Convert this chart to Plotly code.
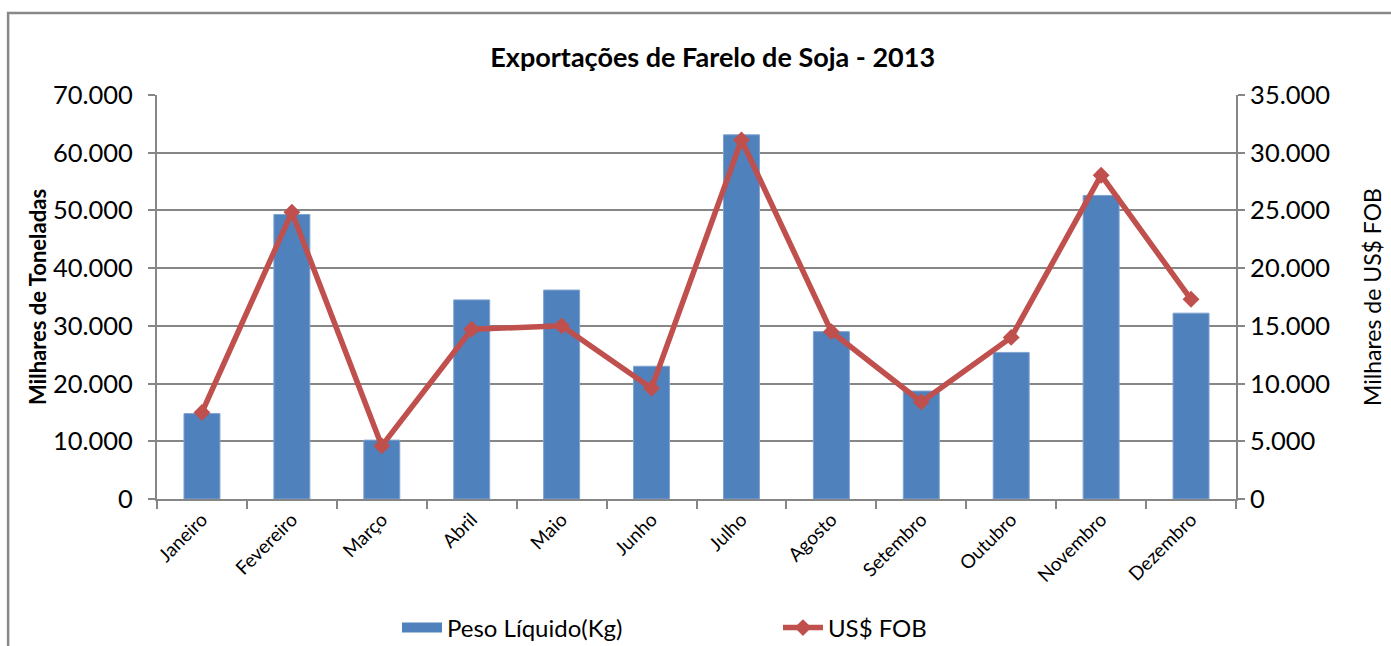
import plotly.graph_objects as go

meses = ["Janeiro", "Fevereiro", "Março", "Abril", "Maio", "Junho", "Julho",
         "Agosto", "Setembro", "Outubro", "Novembro", "Dezembro"]
peso_liquido = [14800, 49300, 10200, 34500, 36200, 23000, 63100,
                29000, 18700, 25400, 52600, 32200]
us_fob = [7500, 24850, 4600, 14700, 15000, 9600, 31100,
          14500, 8400, 14000, 28050, 17300]
left_ticks = [0, 10000, 20000, 30000, 40000, 50000, 60000, 70000]
right_ticks = [0, 5000, 10000, 15000, 20000, 25000, 30000, 35000]

FONT = "Lato"
GRID = "#868686"
BLUE = "#4F81BD"
RED = "#C0504D"

fig = go.Figure()
# legend-only entry that draws a wide rectangular swatch like the original
fig.add_trace(go.Scatter(
    x=[None], y=[None], mode="lines", name="Peso Líquido(Kg)",
    line=dict(color=BLUE, width=15), showlegend=True,
))
fig.add_trace(go.Bar(
    x=meses, y=peso_liquido, name="Peso Líquido(Kg)", showlegend=False,
    marker=dict(color=BLUE, line=dict(color="#7FA3D0", width=1)),
    yaxis="y",
))
fig.add_trace(go.Scatter(
    x=meses, y=us_fob, name="US$ FOB", mode="lines+markers",
    line=dict(color=RED, width=5.5),
    marker=dict(symbol="diamond", size=13, color=RED),
    yaxis="y2",
))

fig.update_layout(
    width=1391, height=646,
    margin=dict(l=157, r=155, t=95, b=147, autoexpand=False),
    paper_bgcolor="white", plot_bgcolor="white",
    separators=",.",
    font=dict(family=FONT, color="black"),
    bargap=0.6,
    showlegend=True,
    title=dict(text="<b>Exportações de Farelo de Soja - 2013</b>",
               x=0.515, xref="paper", xanchor="center",
               y=1 - 58 / 646, yanchor="middle",
               font=dict(size=27, family=FONT, color="black")),
    xaxis=dict(
        type="category", range=[-0.5, 11.5], automargin=False,
        tickangle=-45, tickson="boundaries",
        ticks="outside", ticklen=8, tickcolor=GRID, tickwidth=1.5,
        showline=True, linecolor=GRID, linewidth=2,
        showgrid=False,
        tickfont=dict(size=19, family=FONT, color="black"),
    ),
    yaxis=dict(
        range=[0, 70000], tickvals=left_ticks, tickformat=",d",
        automargin=False,
        showgrid=True, gridcolor=GRID, gridwidth=2,
        showline=True, linecolor=GRID, linewidth=2,
        ticks="outside", ticklen=7, tickcolor=GRID, tickwidth=1.5,
        ticklabelstandoff=10,
        tickfont=dict(size=25.5, family=FONT, color="black"),
        title=dict(text="<b>Milhares de Toneladas</b>",
                   font=dict(size=22, family=FONT, color="black"), standoff=0),
        zeroline=False,
    ),
    yaxis2=dict(
        range=[0, 35000], tickvals=right_ticks, tickformat=",d",
        automargin=False,
        overlaying="y", side="right",
        showgrid=False,
        showline=True, linecolor=GRID, linewidth=2,
        ticks="outside", ticklen=7, tickcolor=GRID, tickwidth=1.5,
        tickfont=dict(size=25.5, family=FONT, color="black"),
        title=dict(text="Milhares de US$ FOB",
                   font=dict(size=23, family=FONT, color="black"), standoff=36),
        zeroline=False,
    ),
    legend=dict(
        orientation="h", x=0.2224, xanchor="left",
        y=-(628 - 499) / 404, yanchor="middle",
        font=dict(size=24, family=FONT, color="black"),
        entrywidth=326, itemwidth=40, traceorder="normal",
    ),
    shapes=[dict(
        type="rect", xref="paper", yref="paper",
        x0=-0.138, x1=1.17, y0=-0.5, y1=1.203,
        line=dict(color="#888888", width=2.5), layer="below",
    )],
)

fig.write_html(
    "out.html",
    config={"displayModeBar": False},
    post_script="document.body.style.margin='0';document.body.style.padding='0';",
)
